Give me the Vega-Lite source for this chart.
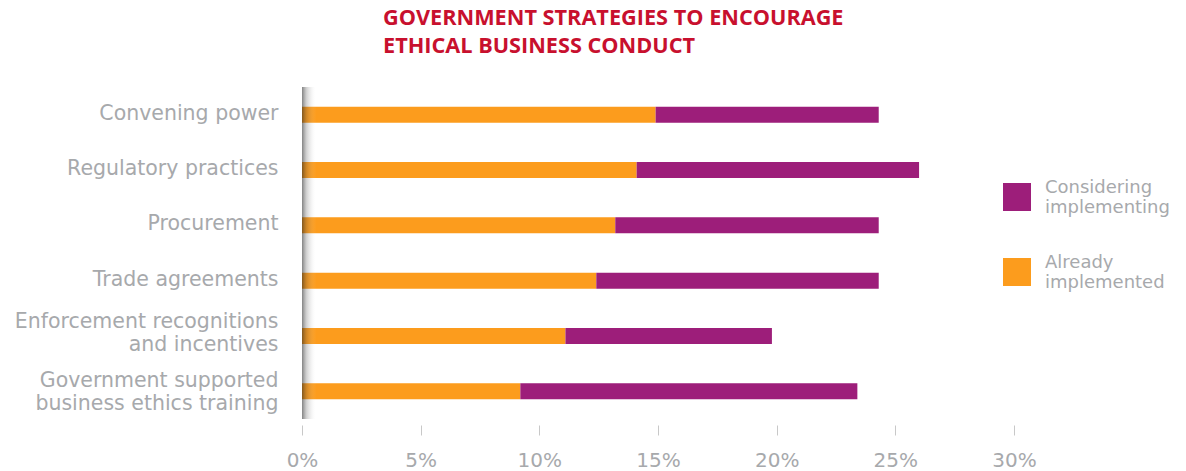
{
  "$schema": "https://vega.github.io/schema/vega-lite/v6.json",
  "autosize": {"type": "none"},
  "padding": {"left": 302, "top": 87, "right": 172, "bottom": 52},
  "width": 712,
  "height": 332,
  "background": "white",
  "title": {
    "text": ["GOVERNMENT STRATEGIES TO ENCOURAGE", "ETHICAL BUSINESS CONDUCT"],
    "anchor": "start",
    "frame": "group",
    "dx": 81,
    "offset": 29,
    "font": "Open Sans",
    "fontSize": 21.7,
    "fontWeight": "bold",
    "lineHeight": 28,
    "color": "#C8102E"
  },
  "config": {
    "view": {"stroke": null},
    "font": "DejaVu Sans"
  },
  "data": {
    "values": [
      {"strategy": "Convening power", "status": "Already implemented", "rank": 1, "value": 14.9},
      {"strategy": "Convening power", "status": "Considering implementing", "rank": 2, "value": 9.4},
      {"strategy": "Regulatory practices", "status": "Already implemented", "rank": 1, "value": 14.1},
      {"strategy": "Regulatory practices", "status": "Considering implementing", "rank": 2, "value": 11.9},
      {"strategy": "Procurement", "status": "Already implemented", "rank": 1, "value": 13.2},
      {"strategy": "Procurement", "status": "Considering implementing", "rank": 2, "value": 11.1},
      {"strategy": "Trade agreements", "status": "Already implemented", "rank": 1, "value": 12.4},
      {"strategy": "Trade agreements", "status": "Considering implementing", "rank": 2, "value": 11.9},
      {"strategy": "Enforcement recognitions|and incentives", "status": "Already implemented", "rank": 1, "value": 11.1},
      {"strategy": "Enforcement recognitions|and incentives", "status": "Considering implementing", "rank": 2, "value": 8.7},
      {"strategy": "Government supported|business ethics training", "status": "Already implemented", "rank": 1, "value": 9.2},
      {"strategy": "Government supported|business ethics training", "status": "Considering implementing", "rank": 2, "value": 14.2}
    ]
  },
  "layer": [
    {
      "mark": {"type": "bar"},
      "encoding": {
        "y": {
          "field": "strategy",
          "type": "nominal",
          "sort": null,
          "scale": {"paddingInner": 0.71, "paddingOuter": 0.355},
          "axis": {
            "title": null,
            "ticks": false,
            "domain": false,
            "labelPadding": 24,
            "labelFontSize": 20.5,
            "labelLineHeight": 23,
            "labelColor": "#A7A9AC",
            "labelFont": "DejaVu Sans",
            "labelExpr": "split(datum.label, '|')",
            "labelOffset": {
              "condition": [
                {"test": "indexof(datum.value, 'Enforcement') >= 0", "value": -14},
                {"test": "indexof(datum.value, 'Government') >= 0", "value": -10}
              ],
              "value": -1
            },
            "labelLimit": 400
          }
        },
        "x": {
          "field": "value",
          "type": "quantitative",
          "stack": "zero",
          "scale": {"domain": [0, 30], "nice": false},
          "axis": {
            "title": null,
            "values": [0, 5, 10, 15, 20, 25, 30],
            "grid": false,
            "domain": false,
            "offset": 6,
            "tickSize": 10,
            "tickColor": "#C8C8C8",
            "labelPadding": 15,
            "labelFlush": false,
            "labelFontSize": 20,
            "labelColor": "#A7A9AC",
            "labelFont": "DejaVu Sans",
            "labelExpr": "datum.value + '%'"
          }
        },
        "color": {
          "field": "status",
          "type": "nominal",
          "scale": {
            "domain": ["Considering implementing", "Already implemented"],
            "range": ["#9D1E7A", "#FC9C1D"]
          },
          "legend": {
            "title": null,
            "orient": "none",
            "legendX": 701,
            "legendY": 96,
            "padding": 0,
            "symbolType": "square",
            "symbolSize": 784,
            "symbolStrokeWidth": 0,
            "symbolOpacity": 1,
            "labelFontSize": 18,
            "labelLineHeight": 21,
            "labelBaseline": "bottom",
            "labelColor": "#A7A9AC",
            "labelFont": "DejaVu Sans",
            "labelOffset": 14,
            "labelExpr": "split(datum.label, ' ')",
            "labelLimit": 200,
            "rowPadding": 37
          }
        },
        "order": {"field": "rank", "type": "quantitative"}
      }
    },
    {
      "data": {"values": [{"x0": 0, "x1": 0.6}]},
      "mark": {
        "type": "rect",
        "color": {
          "gradient": "linear",
          "x1": 0, "y1": 0, "x2": 1, "y2": 0,
          "stops": [
            {"offset": 0, "color": "rgba(30,30,30,0.55)"},
            {"offset": 0.3, "color": "rgba(60,60,60,0.25)"},
            {"offset": 1, "color": "rgba(255,255,255,0)"}
          ]
        }
      },
      "encoding": {
        "x": {"field": "x0", "type": "quantitative"},
        "x2": {"field": "x1"}
      }
    }
  ]
}
